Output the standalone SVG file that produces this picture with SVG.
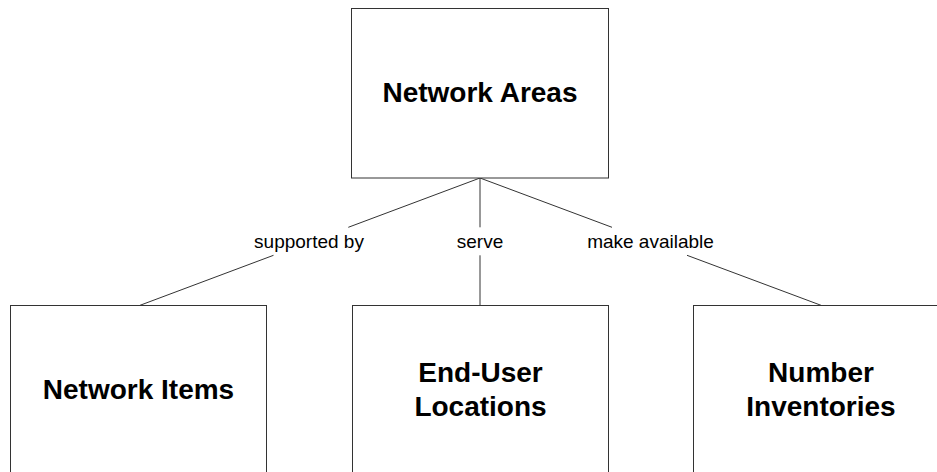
<svg xmlns="http://www.w3.org/2000/svg" width="937" height="472" viewBox="0 0 937 472">
  <style>
    .box { fill: #ffffff; stroke: #333333; stroke-width: 1; }
    .name { font-family: "Liberation Sans", Arial, sans-serif; font-size: 28px; font-weight: bold; fill: #000000; text-anchor: middle; }
    .rel { font-family: "Liberation Sans", Arial, sans-serif; font-size: 19px; fill: #000000; text-anchor: middle; }
    .link { stroke: #333333; stroke-width: 1; fill: none; }
  </style>
  <rect x="0" y="0" width="937" height="472" fill="#ffffff"/>

  <!-- connectors, broken around their labels -->
  <g id="connectors">
    <polyline class="link" points="480,178 348.3,227.3"/>
    <polyline class="link" points="273.5,255.3 140,305.3"/>
    <text class="rel" x="309" y="248">supported by</text>

    <polyline class="link" points="480,178 480,227.3"/>
    <polyline class="link" points="480,255.3 480,305.3"/>
    <text class="rel" x="480" y="248">serve</text>

    <polyline class="link" points="480,178 612,227.3"/>
    <polyline class="link" points="687,255.3 821,305.3"/>
    <text class="rel" x="650.5" y="248">make available</text>
  </g>

  <g id="network-areas">
    <rect class="box" x="351.5" y="8.5" width="257" height="169.5"/>
    <text class="name" x="480" y="102">Network Areas</text>
  </g>

  <g id="network-items">
    <rect class="box" x="10.5" y="305.5" width="256" height="180"/>
    <text class="name" x="138.5" y="399">Network Items</text>
  </g>

  <g id="end-user-locations">
    <rect class="box" x="352.5" y="305.5" width="256" height="180"/>
    <text class="name" x="480.5" y="381.5">End-User</text>
    <text class="name" x="480.5" y="416">Locations</text>
  </g>

  <g id="number-inventories">
    <rect class="box" x="693.5" y="305.5" width="256" height="180"/>
    <text class="name" x="821" y="381.5">Number</text>
    <text class="name" x="821" y="416">Inventories</text>
  </g>
</svg>
